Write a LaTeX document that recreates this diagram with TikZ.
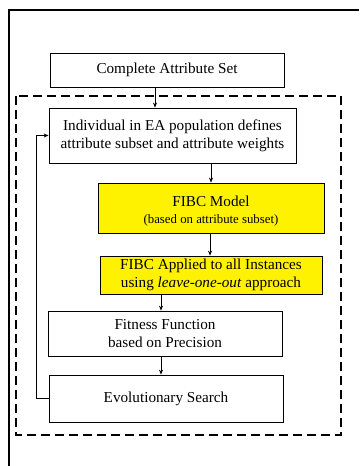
\documentclass[tikz,border=0pt]{standalone}
\usepackage{fontspec}
\setmainfont{Liberation Serif}
\usetikzlibrary{arrows.meta,calc}
\begin{document}
\begin{tikzpicture}[x=1pt,y=-1pt,
  box/.style={draw=black,line width=0.8pt,align=center,inner sep=0pt,
    font=\fontsize{15.2}{17.6}\selectfont},
  ybox/.style={box,fill=yellow},
  arr/.style={line width=0.7pt,-{Stealth[length=5pt,width=4pt]}}]
\useasboundingbox (0,0) rectangle (359,466);
% outer frame (partly visible)
\draw[line width=2pt] (359,10) -- (9,10) -- (9,470);
% dashed frame
\draw[line width=2pt,dash pattern=on 9pt off 5pt] (16,96) rectangle (341,435);
% nodes
\node[box,minimum width=234pt,minimum height=34pt] (c) at (167,70) {Complete Attribute Set};
\node[box,minimum width=247pt,minimum height=55pt] (i) at (172.5,135.5)
  {Individual in EA population defines\\attribute subset and attribute weights};
\node[ybox,minimum width=226pt,minimum height=50pt] (m) at (211,208) {};
\node[align=center,inner sep=0pt,font=\fontsize{15.2}{17.6}\selectfont] (mt) at (211,211)
  {FIBC Model\\[-1pt]{\fontsize{12.8}{15}\selectfont (based on attribute subset)}};
\node[ybox,minimum width=222pt,minimum height=38pt] (a) at (211,275)
  {FIBC Applied to all Instances\\using \textit{leave-one-out} approach};
\node[box,minimum width=234pt,minimum height=45pt] (f) at (165,333.5)
  {Fitness Function\\based on Precision};
\node[box,minimum width=234pt,minimum height=47pt] (e) at (166,398.5)
  {Evolutionary Search};
% arrow columns
\coordinate (x1) at (155,0);
\coordinate (x2) at (211,0);
\coordinate (x3) at (210,0);
\coordinate (x4) at (161,0);
\draw[arr] (c.south -| x1) -- (i.north -| x1);
\draw[arr] (i.south -| x2) -- (m.north -| x2);
\draw[arr] (m.south -| x3) -- (a.north -| x3);
\draw[arr] (a.south -| x4) -- (f.north -| x4);
\draw[arr] (f.south -| x4) -- (e.north -| x4);
% feedback loop
\draw[arr] (e.west) -- ++(-12,0) |- (i.west);
\end{tikzpicture}
\end{document}
